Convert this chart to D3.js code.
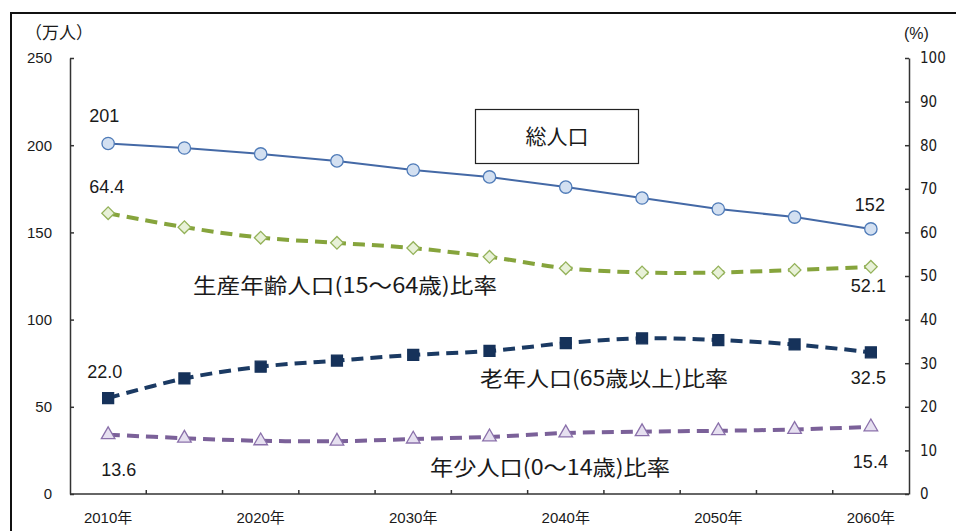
<!DOCTYPE html>
<html>
<head>
<meta charset="utf-8">
<script src="https://cdn.jsdelivr.net/npm/d3@7"></script>
<style>
  html, body { margin: 0; padding: 0; background: #fff; }
  svg { display: block; }
  .num { font-family: "Liberation Sans", Arial, sans-serif; fill: #1a1a1a; }
  .jp { font-family: "Noto Sans CJK JP", sans-serif; fill: #1a1a1a; }
</style>
</head>
<body>
<svg id="chart" width="956" height="531"></svg>
<script>
// Years on the category axis
const years = [2010, 2015, 2020, 2025, 2030, 2035, 2040, 2045, 2050, 2055, 2060];
// Total population (10,000 persons), left axis
const totalPop = [201, 198.4, 195, 191, 185.8, 181.8, 176, 169.7, 163.4, 158.8, 152];
// Working-age (15-64) share, %
const workingShare = [64.4, 61.2, 58.8, 57.6, 56.4, 54.4, 51.8, 50.8, 50.8, 51.4, 52.1];
// Elderly (65+) share, %
const elderlyShare = [22.0, 26.5, 29.2, 30.6, 31.9, 32.8, 34.6, 35.7, 35.3, 34.3, 32.5];
// Young (0-14) share, %
const youngShare = [13.6, 12.8, 12.2, 12.1, 12.6, 13.1, 14.0, 14.3, 14.5, 14.8, 15.4];
// Axis tick values
const leftTicks = [0, 50, 100, 150, 200, 250];
const rightTicks = [0, 10, 20, 30, 40, 50, 60, 70, 80, 90, 100];
const xLabelYears = [2010, 2020, 2030, 2040, 2050, 2060];

const svg = d3.select("#chart");

// Outer frame
svg.append("rect")
  .attr("x", 11).attr("y", 13).attr("width", 960).attr("height", 540)
  .attr("fill", "none").attr("stroke", "#111").attr("stroke-width", 2);

const plotLeft = 70, plotRight = 909, plotTop = 58, plotBottom = 494;

const x = d3.scaleBand().domain(years).range([plotLeft, plotRight]).padding(0);
const xc = d => x(d) + x.bandwidth() / 2;
const yL = d3.scaleLinear().domain([0, 250]).range([plotBottom, plotTop]);
const yR = d3.scaleLinear().domain([0, 100]).range([plotBottom, plotTop]);

// Left axis
const gL = svg.append("g").attr("transform", `translate(${plotLeft},0)`)
  .call(d3.axisLeft(yL).tickValues(leftTicks).tickSizeInner(-4).tickSizeOuter(0).tickPadding(18));
gL.selectAll("text").attr("class", "num").style("font-size", "15px").attr("fill", "#1a1a1a");

// Right axis
const gR = svg.append("g").attr("transform", `translate(${plotRight},0)`)
  .call(d3.axisRight(yR).tickValues(rightTicks).tickSizeInner(-4).tickSizeOuter(0).tickPadding(11));
gR.selectAll("text")
  .style("font-family", "'Liberation Sans Narrow', 'DejaVu Sans Condensed', sans-serif")
  .style("font-size", "15px").attr("fill", "#1a1a1a");

[gL, gR].forEach(g => {
  g.selectAll("path, line").attr("stroke", "#333").attr("stroke-width", 1.5);
});

// Bottom axis with ticks on category boundaries
const gB = svg.append("g").attr("transform", `translate(0,${plotBottom})`);
gB.append("line").attr("x1", plotLeft).attr("x2", plotRight).attr("y1", 0).attr("y2", 0)
  .attr("stroke", "#333").attr("stroke-width", 1.5);
gB.selectAll("line.tick").data(years.slice(1)).join("line").attr("class", "tick")
  .attr("x1", d => x(d)).attr("x2", d => x(d)).attr("y1", 0).attr("y2", -4)
  .attr("stroke", "#333").attr("stroke-width", 1.5);
gB.selectAll("text").data(xLabelYears).join("text")
  .attr("x", d => xc(d)).attr("y", 29)
  .attr("text-anchor", "middle").style("font-size", "15px")
  .style("font-family", "'Liberation Sans', 'Noto Sans CJK JP', sans-serif")
  .attr("fill", "#1a1a1a")
  .text(d => d + "年");

// Axis unit captions
svg.append("text").attr("class", "jp").attr("x", 25).attr("y", 39)
  .style("font-size", "17px").attr("fill", "#33334a").text("（万人）");
svg.append("text").attr("class", "num").attr("x", 904).attr("y", 39)
  .style("font-size", "16px").attr("fill", "#33334a").text("(%)");

// Series drawing helper
function drawSeries(values, scale, opts) {
  const pts = years.map((yr, i) => [xc(yr), scale(values[i])]);
  const line = d3.line().curve(opts.curve || d3.curveLinear);
  svg.append("path").attr("d", line(pts))
    .attr("fill", "none").attr("stroke", opts.color)
    .attr("stroke-width", opts.width)
    .attr("stroke-dasharray", opts.dash || null);
  const sym = d3.symbol().type(opts.symbol).size(opts.size);
  svg.append("g").selectAll("path").data(pts).join("path")
    .attr("transform", d => `translate(${d[0]},${d[1]}) rotate(${opts.rotate || 0})`)
    .attr("d", sym)
    .attr("fill", opts.fill).attr("stroke", opts.stroke).attr("stroke-width", 1.3);
  return pts;
}

drawSeries(totalPop, yL, {
  color: "#4469a6", width: 2, symbol: d3.symbolCircle, size: 120,
  fill: "#d3e0f1", stroke: "#4f7bb8"
});
drawSeries(workingShare, yR, {
  color: "#86a43c", width: 4, dash: "12,7", curve: d3.curveCatmullRom,
  symbol: d3.symbolSquare, size: 80, rotate: 45, fill: "#e8f1d8", stroke: "#94b25a"
});
drawSeries(elderlyShare, yR, {
  color: "#1b3a63", width: 4, dash: "12,7", curve: d3.curveCatmullRom,
  symbol: d3.symbolSquare, size: 120, fill: "#16325a", stroke: "#16325a"
});
drawSeries(youngShare, yR, {
  color: "#7b6199", width: 4, dash: "12,7", curve: d3.curveCatmullRom,
  symbol: d3.symbolTriangle, size: 80, fill: "#e6e0f0", stroke: "#8a70aa"
});

// Endpoint value labels
const first = years[0], last = years[years.length - 1];
const n = years.length - 1;
function valLabel(xp, yp, txt) {
  svg.append("text").attr("class", "num").attr("x", xp).attr("y", yp)
    .style("font-size", "18px").text(txt);
}
valLabel(xc(first) - 19, yL(totalPop[0]) - 21, d3.format("d")(totalPop[0]));
valLabel(xc(last) - 16, yL(totalPop[n]) - 18, d3.format("d")(totalPop[n]));
valLabel(xc(first) - 19, yR(workingShare[0]) - 20, workingShare[0].toFixed(1));
valLabel(xc(last) - 20, yR(workingShare[n]) + 25, workingShare[n].toFixed(1));
valLabel(xc(first) - 21, yR(elderlyShare[0]) - 20, elderlyShare[0].toFixed(1));
valLabel(xc(last) - 20, yR(elderlyShare[n]) + 32, elderlyShare[n].toFixed(1));
valLabel(xc(first) - 7, yR(youngShare[0]) + 41, youngShare[0].toFixed(1));
valLabel(xc(last) - 18, yR(youngShare[n]) + 41, youngShare[n].toFixed(1));

// Series captions
function caption(xp, yp, txt, len) {
  svg.append("text").attr("class", "jp").attr("x", xp).attr("y", yp)
    .attr("textLength", len).attr("lengthAdjust", "spacingAndGlyphs")
    .style("font-size", "21px").text(txt);
}
caption(193, 293, "生産年齢人口(15～64歳)比率", 304);
caption(480, 386, "老年人口(65歳以上)比率", 248);
caption(430, 475, "年少人口(0～14歳)比率", 240);

// Boxed caption for total population
svg.append("rect").attr("x", 475.5).attr("y", 109.5).attr("width", 163).attr("height", 54)
  .attr("fill", "#fff").attr("stroke", "#222").attr("stroke-width", 1.2);
svg.append("text").attr("class", "jp").attr("x", 557).attr("y", 144)
  .attr("text-anchor", "middle").style("font-size", "21px").text("総人口");
</script>
</body>
</html>
